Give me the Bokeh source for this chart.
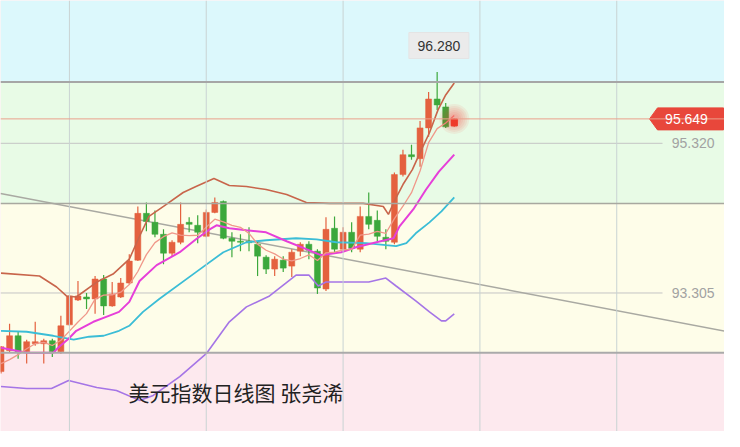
import numpy as np
from bokeh.plotting import figure
from bokeh.models import Span, BoxAnnotation, Label
from bokeh.embed import file_html
from bokeh.resources import INLINE

# ---------------- data ----------------
opens = [92.247, 92.528, 92.729, 92.515, 92.622, 92.622, 92.662, 92.515, 92.876, 93.211,
         93.251, 93.225, 93.493, 93.131, 93.251, 93.439, 93.747, 94.377, 94.256, 94.095,
         93.841, 93.988, 94.256, 94.216, 94.068, 94.390, 94.537, 94.042, 94.002, 94.002,
         93.961, 93.787, 93.627, 93.747, 93.667, 93.868, 93.961, 93.868, 93.359, 94.176,
         93.895, 94.122, 93.895, 94.336, 94.283, 94.055, 93.988, 94.899, 95.167, 95.113,
         95.528, 95.917, 95.810, 95.555]
highs = [92.590, 92.890, 92.783, 92.676, 92.917, 92.689, 92.689, 92.997, 93.278, 93.466,
         93.305, 93.533, 93.546, 93.452, 93.506, 93.827, 94.470, 94.524, 94.417, 94.162,
         94.015, 94.524, 94.323, 94.350, 94.430, 94.591, 94.551, 94.122, 94.095, 94.189,
         94.002, 93.814, 93.801, 93.801, 93.895, 93.988, 94.002, 93.895, 94.323, 94.336,
         94.189, 94.256, 94.470, 94.658, 94.417, 94.162, 94.926, 95.234, 95.301, 95.622,
         96.011, 96.280, 95.863, 95.662]
lows = [92.220, 92.501, 92.421, 92.354, 92.595, 92.354, 92.442, 92.488, 92.863, 93.198,
        93.091, 93.024, 93.010, 93.118, 93.238, 93.426, 93.734, 94.135, 94.055, 93.693,
        93.801, 93.961, 94.122, 93.975, 94.055, 94.377, 94.028, 93.787, 93.868, 93.868,
        93.533, 93.560, 93.533, 93.587, 93.519, 93.801, 93.760, 93.292, 93.332, 93.854,
        93.854, 93.854, 93.854, 94.162, 94.002, 93.895, 93.961, 94.872, 95.100, 95.006,
        95.408, 95.770, 95.528, 95.542]
closes = [92.581, 92.729, 92.515, 92.649, 92.649, 92.662, 92.515, 92.863, 93.265, 93.265,
          93.225, 93.493, 93.131, 93.292, 93.439, 93.734, 94.377, 94.269, 94.095, 93.841,
          93.988, 94.229, 94.229, 94.122, 94.390, 94.524, 94.042, 94.002, 93.988, 93.982,
          93.801, 93.627, 93.760, 93.640, 93.854, 93.961, 93.881, 93.372, 94.162, 93.895,
          94.122, 93.908, 94.336, 94.229, 94.068, 94.002, 94.899, 95.167, 95.140, 95.528,
          95.917, 95.837, 95.542, 95.649]

ma5 = [92.354, 92.408, 92.475, 92.555, 92.622, 92.641, 92.598, 92.668, 92.791, 92.914,
       93.027, 93.222, 93.276, 93.281, 93.316, 93.418, 93.594, 93.822, 93.983, 94.063,
       94.114, 94.085, 94.077, 94.082, 94.192, 94.299, 94.261, 94.216, 94.189, 94.107,
       93.963, 93.880, 93.831, 93.762, 93.736, 93.769, 93.819, 93.742, 93.846, 93.854,
       93.886, 93.892, 94.085, 94.098, 94.133, 94.109, 94.307, 94.473, 94.655, 94.947,
       95.330, 95.518, 95.593, 95.694]

ma10_idx = [0, 1.8, 3.0, 6.1, 6.8, 7.9, 8.8, 10.8, 12.3, 13.8, 15.0, 16.2, 18.2, 20.9,
            22.8, 24.4, 25.2, 26.7, 28.7, 31.0, 33.4, 35.7, 37.4, 39.8, 41.5, 43.9,
            45.9, 46.6, 48.2, 49.7, 51.2, 53.0]
ma10_val = [92.568, 92.528, 92.501, 92.501, 92.582, 92.689, 92.796, 92.917, 92.984,
            93.051, 93.185, 93.466, 93.680, 93.854, 94.028, 94.162, 94.216, 94.176,
            94.149, 94.122, 94.002, 93.895, 93.814, 93.854, 93.921, 93.988, 94.042,
            94.202, 94.430, 94.698, 94.939, 95.167]

bb_mid_idx = [0, 3.0, 6.1, 8.5, 10.3, 12.0, 13.8, 15.0, 16.6, 18.5, 22.8, 26.0, 28.7,
              31.0, 34.5, 36.9, 39.2, 42.7, 45.0, 46.2, 47.4, 48.5, 50.1, 51.5, 53.0]
bb_mid_val = [92.796, 92.783, 92.729, 92.676, 92.716, 92.729, 92.796, 92.863, 93.051,
              93.225, 93.586, 93.854, 93.988, 94.015, 94.042, 94.028, 93.988, 93.975,
              93.948, 93.935, 93.975, 94.109, 94.256, 94.403, 94.591]

bb_up_idx = [0, 4.5, 6.5, 7.65, 8.8, 11.2, 13.1, 15.0, 16.2, 17.3, 19.0, 21.3, 22.8,
             24.9, 26.7, 28.7, 31.0, 33.4, 35.7, 38.4, 42.35, 44.7, 45.3, 46.1, 47.0,
             48.1, 49.0, 50.1, 51.1, 52.0, 53.0]
bb_up_val = [93.573, 93.533, 93.386, 93.265, 93.251, 93.452, 93.560, 93.760, 94.069,
             94.337, 94.470, 94.658, 94.738, 94.845, 94.752, 94.738, 94.698, 94.631,
             94.524, 94.511, 94.511, 94.470, 94.363, 94.564, 94.765, 94.966, 95.194,
             95.462, 95.770, 95.971, 96.131]

bb_low_idx = [0, 3.0, 5.9, 7.9, 11.2, 13.5, 16.2, 17.8, 20.9, 24.0, 26.7, 28.7, 31.4,
              34.5, 36.0, 37.1, 38.0, 43.0, 45.0, 46.2, 48.5, 50.1, 51.5, 52.0, 53.0]
bb_low_val = [92.046, 92.019, 92.019, 92.126, 92.033, 91.993, 91.859, 91.926, 92.180,
              92.488, 92.917, 93.118, 93.265, 93.546, 93.546, 93.399, 93.452, 93.452,
              93.506, 93.399, 93.198, 93.051, 92.930, 92.930, 93.024]

trend_idx = [-0.06, 84.99]
trend_val = [94.644, 92.783]

zone_levels = [96.145, 94.51, 92.50]        # blue/green, green/yellow, yellow/pink
price_levels = [95.320, 93.305]
price_level_labels = ["95.320", "93.305"]
last_price = 95.649
last_label = "95.649"
high_label = "96.280"
high_idx = 51
grid_idx = [8, 24, 40, 56, 72]
title = "美元指数日线图 张尧浠"

# ---------------- figure ----------------
W, H = 724, 431
x0, x1 = -0.06, 84.6
y0, y1 = 91.44, 97.243
sx = (x1 - x0) / W   # index units per pixel
sy = (y1 - y0) / H   # price units per pixel

p = figure(width=W, height=H, x_range=(x0, x1), y_range=(y0, y1),
           output_backend="svg", toolbar_location=None, min_border=0)
p.xaxis.visible = False
p.yaxis.visible = False
p.grid.visible = False
p.outline_line_color = None
p.background_fill_color = "#fde9ee"
p.border_fill_color = "white"

p.add_layout(BoxAnnotation(bottom=zone_levels[0], fill_color="#dcf8fc", fill_alpha=1,
                           line_color=None, level="underlay"))
p.add_layout(BoxAnnotation(bottom=zone_levels[1], top=zone_levels[0], fill_color="#e8fbe6",
                           fill_alpha=1, line_color=None, level="underlay"))
p.add_layout(BoxAnnotation(bottom=zone_levels[2], top=zone_levels[1], fill_color="#fefde9",
                           fill_alpha=1, line_color=None, level="underlay"))

for g in grid_idx:
    p.add_layout(Span(location=g, dimension="height", line_color="#c9d3d3", line_width=1))

p.add_layout(Span(location=zone_levels[0], dimension="width", line_color="#a6a6a6", line_width=2))
p.add_layout(Span(location=zone_levels[1], dimension="width", line_color="#a8a8a0", line_width=1.5))
p.add_layout(Span(location=zone_levels[2], dimension="width", line_color="#aaaaaa", line_width=2))

seg_end = x1 - 62 * sx
p.segment(x0=[x0] * len(price_levels), x1=[seg_end] * len(price_levels),
          y0=price_levels, y1=price_levels, line_color="#c4c4c4", line_width=1)
p.add_layout(Span(location=last_price, dimension="width", line_color="#eba08c", line_width=1))

# trend line
p.line(trend_idx, trend_val, line_color="#a9a9a2", line_width=1.5)

# candles
idx = np.arange(len(opens))
o = np.array(opens); c = np.array(closes)
up = c >= o
col = np.where(up, "#e4613f", "#3ca83c")
p.segment(x0=idx, x1=idx, y0=lows, y1=highs, line_color=col, line_width=1.2)
p.vbar(x=idx, width=0.7, top=np.maximum(o, c), bottom=np.minimum(o, c),
       fill_color=col, line_color=col, line_width=0.5)

# indicator lines
p.line(bb_low_idx, bb_low_val, line_color="#a575e6", line_width=1.6)
p.line(bb_mid_idx, bb_mid_val, line_color="#3bbdd6", line_width=1.8)
p.line(bb_up_idx, bb_up_val, line_color="#c8654b", line_width=1.6)
p.line(ma10_idx, ma10_val, line_color="#e63fd9", line_width=2)
p.line(list(idx), ma5, line_color="#f0988a", line_width=1.3)

# soft glow on last candle
last_i = len(closes) - 1
for sz in [30, 26, 22, 18, 14, 10]:
    p.scatter([last_i], [last_price], size=sz, fill_color="#ff3030", fill_alpha=0.07,
              line_color=None)
p.vbar(x=[last_i], width=0.7, top=[max(opens[last_i], closes[last_i])],
       bottom=[min(opens[last_i], closes[last_i])], fill_color="#ee3a2a", line_color="#ee3a2a")

# high callout
hy = highs[high_idx] + 26.5 * sy
p.rect(x=[high_idx + 0.2], y=[hy], width=60, height=26, width_units="screen",
       height_units="screen", fill_color="#ebebeb", line_color="#e4e4e4")
p.add_layout(Label(x=high_idx + 0.2, y=hy, text=high_label, text_align="center",
                   text_baseline="middle", text_font="Liberation Sans",
                   text_font_size="14px", text_color="#333333"))

# last price tag
tag_r = x1 - 1 * sx
tag_l = tag_r - 66 * sx
tip = tag_l - 8 * sx
hh = 11 * sy
p.patch([tip, tag_l, tag_r, tag_r, tag_l], [last_price, last_price + hh, last_price + hh,
        last_price - hh, last_price - hh], fill_color="#e8473b", line_color="#e8473b")
p.add_layout(Label(x=tag_l + 29 * sx, y=last_price, text=last_label, text_align="center",
                   text_baseline="middle", text_font="Liberation Sans",
                   text_font_size="14px", text_color="white"))

for lv, lb in zip(price_levels, price_level_labels):
    p.add_layout(Label(x=x1 - 10 * sx, y=lv, text=lb, text_align="right",
                       text_baseline="middle", text_font="Liberation Sans",
                       text_font_size="14px", text_color="#a2a2a2"))

p.add_layout(Label(x=14.9, y=91.975, text=title, text_align="left", text_baseline="middle",
                   text_font="Noto Sans CJK SC", text_font_size="21px", text_color="#222222"))

open("out.html", "w").write(file_html(p, INLINE))
